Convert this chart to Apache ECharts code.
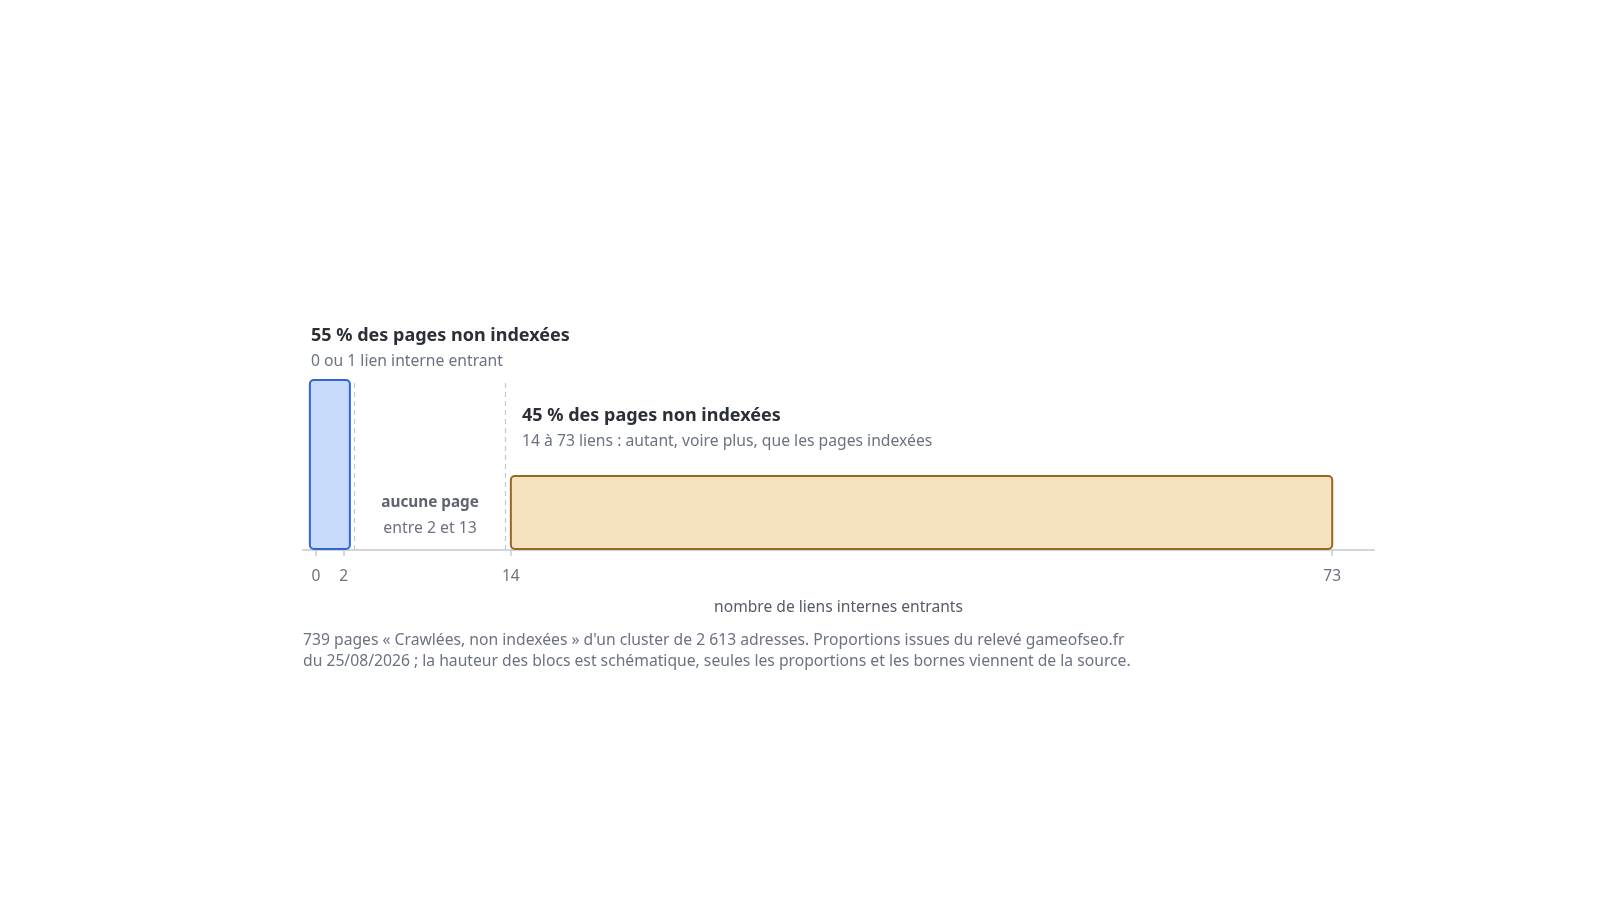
<!DOCTYPE html>
<html>
<head>
<meta charset="utf-8">
<script src="https://cdn.jsdelivr.net/npm/echarts@6/dist/echarts.min.js"></script>
<style>html,body{margin:0;padding:0;background:#fff}#c{width:1600px;height:900px}</style>
</head>
<body>
<div id="c"></div>
<script>
// Data
const blockLo = [0, 14];
const blockHi = [2, 73];
const blockHeight = [100, 43.5]; // schematic heights
const blockTitles = ['55 % des pages non indexées', '45 % des pages non indexées'];
const blockSubs = ['0 ou 1 lien interne entrant', '14 à 73 liens : autant, voire plus, que les pages indexées'];
const gapBounds = [2.78, 13.62];
const gapTexts = ['aucune page', 'entre 2 et 13'];
const tickValues = [0, 2, 14, 73];
const axisName = 'nombre de liens internes entrants';
const footnote = ['739 pages « Crawlées, non indexées » d\'un cluster de 2 613 adresses. Proportions issues du relevé gameofseo.fr',
  'du 25/08/2026 ; la hauteur des blocs est schématique, seules les proportions et les bornes viennent de la source.'];

const FONT = '"Noto Sans", "Open Sans", sans-serif';
const fills = ['#c9dbfa', '#f7e2c0'];
const strokes = ['#2f66cf', '#966722'];

const chart = echarts.init(document.getElementById('c'));
const blockData = blockLo.map((lo, i) => [lo, blockHi[i], blockHeight[i], i]);

chart.setOption({
  animation: false,
  grid: { left: 303, right: 226, top: 380, bottom: 350 },
  xAxis: {
    type: 'value', min: -0.93, max: 76,
    splitLine: { show: false },
    axisLine: { show: true, lineStyle: { color: '#d2d5db', width: 2 } },
    axisTick: { show: true, customValues: tickValues, length: 6, lineStyle: { color: '#c9ccd2', width: 1.5 } },
    axisLabel: { customValues: tickValues, color: '#6b7280', fontSize: 15.5, fontFamily: FONT, margin: 19 },
    name: axisName, nameLocation: 'middle', nameGap: 50,
    nameTextStyle: { color: '#555b66', fontSize: 15.6, fontFamily: FONT }
  },
  yAxis: { type: 'value', min: 0, max: 100, show: false },
  series: [
    {
      type: 'custom',
      data: blockData,
      renderItem: function (params, api) {
        const lo = api.value(0), hi = api.value(1), h = api.value(2), idx = api.value(3);
        let p0 = api.coord([lo, 0]);
        let p1 = api.coord([hi, h]);
        let x0 = p0[0], x1 = p1[0];
        const minW = 40;
        if (x1 - x0 < minW) {
          const c = (x0 + x1) / 2;
          x0 = c - minW / 2; x1 = c + minW / 2;
        }
        return {
          type: 'rect',
          shape: { x: x0, y: p1[1], width: x1 - x0, height: p0[1] - p1[1] - 1, r: 4 },
          style: { fill: fills[idx], stroke: strokes[idx], lineWidth: 2 }
        };
      },
      markLine: {
        symbol: 'none', silent: true,
        label: { show: false },
        lineStyle: { type: [5, 4], color: '#c4c7cd', width: 1.2 },
        data: gapBounds.map(v => ({ xAxis: v }))
      },
      z: 3
    },
    {
      type: 'custom',
      data: [[(gapBounds[0] + gapBounds[1]) / 2, 0]],
      renderItem: function (params, api) {
        const p = api.coord([api.value(0), 0]);
        return {
          type: 'group',
          children: [
            { type: 'text', style: { text: gapTexts[0], x: p[0], y: p[1] - 47, align: 'center', verticalAlign: 'middle', fill: '#5f6570', font: 'bold 15.3px ' + FONT } },
            { type: 'text', style: { text: gapTexts[1], x: p[0], y: p[1] - 22, align: 'center', verticalAlign: 'middle', fill: '#6b7280', font: '15.8px ' + FONT } }
          ]
        };
      }
    }
  ],
  graphic: [
    { type: 'text', left: 311, top: 327, style: { text: blockTitles[0], fill: '#2b2f36', font: 'bold 18px ' + FONT } },
    { type: 'text', left: 311, top: 354, style: { text: blockSubs[0], fill: '#6b7280', font: '15.7px ' + FONT } },
    { type: 'text', left: 522, top: 407, style: { text: blockTitles[1], fill: '#2b2f36', font: 'bold 18px ' + FONT } },
    { type: 'text', left: 522, top: 434, style: { text: blockSubs[1], fill: '#6b7280', font: '15.7px ' + FONT } },
    { type: 'text', left: 303, top: 633, style: { text: footnote[0], fill: '#6b7280', font: '15.7px ' + FONT } },
    { type: 'text', left: 303, top: 654, style: { text: footnote[1], fill: '#6b7280', font: '15.7px ' + FONT } }
  ]
});
</script>
</body>
</html>
